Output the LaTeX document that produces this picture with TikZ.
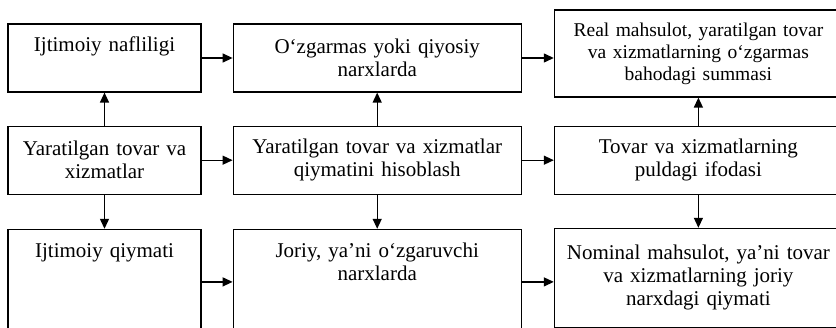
\documentclass[tikz,border=0pt]{standalone}
\usepackage{fontspec}
\setmainfont{Liberation Serif}
\usetikzlibrary{arrows.meta, positioning}

\begin{document}
\begin{tikzpicture}[
  x=1pt, y=1pt,
  font=\fontsize{21}{23}\selectfont,
  node distance=33pt and 31pt,
  box/.style={rectangle, draw, line width=1.2pt, inner xsep=4pt, inner ysep=0pt, align=center},
  colone/.style={box, text width=185pt},
  coltwo/.style={box, text width=280pt},
  colthree/.style={box, text width=280pt},
  topalign/.style={text height=16pt, text depth=#1, inner ysep=12pt},
  line/.style={draw, line width=1.3pt, -{Triangle[length=10pt, width=9pt]}}
]
  \useasboundingbox (0,0) rectangle (836,-328);
  \clip (0,0) rectangle (836,-328);
  \fill [white] (0,0) rectangle (836,-328);

  % left column
  \node [colone, minimum height=68pt, topalign=28pt] (naflilik) at (104.5,-58) {Ijtimoiy nafliligi};
  \node [colone, minimum height=68pt] (yaratilgan) [below=of naflilik] {Yaratilgan tovar va\\xizmatlar};
  \node [colone, minimum height=105pt, topalign=65pt] (qiymat) [below=34pt of yaratilgan] {Ijtimoiy qiymati};

  % middle column
  \node [coltwo, minimum height=68pt] (ozgarmas) [right=of naflilik] {O‘zgarmas yoki qiyosiy\\narxlarda};
  \node [coltwo, minimum height=68pt] (hisoblash) [right=of yaratilgan] {Yaratilgan tovar va xizmatlar\\qiymatini hisoblash};
  \node [coltwo, minimum height=105pt, topalign=65pt] (joriy) [right=of qiymat] {Joriy, ya’ni o‘zgaruvchi\\narxlarda};

  % right column
  \node [colthree, minimum height=87pt, font=\fontsize{19.5}{22}\selectfont] (real) [right=32pt of ozgarmas, yshift=4.5pt] {Real mahsulot, yaratilgan tovar\\va xizmatlarning o‘zgarmas\\bahodagi summasi};
  \node [colthree, minimum height=68pt] (puldagi) [right=32pt of hisoblash] {Tovar va xizmatlarning\\puldagi ifodasi};
  \node [colthree, minimum height=99pt] (nominal) [right=32pt of joriy.north east, anchor=north west, yshift=1pt] {Nominal mahsulot, ya’ni tovar\\va xizmatlarning joriy\\narxdagi qiymati};

  \draw [line] (naflilik.east) -- (naflilik.east -| ozgarmas.west);
  \draw [line] (ozgarmas.east) -- (ozgarmas.east -| real.west);
  \draw [line] (yaratilgan.east) -- (yaratilgan.east -| hisoblash.west);
  \draw [line] (hisoblash.east) -- (hisoblash.east -| puldagi.west);
  \draw [line] (qiymat.east) -- (qiymat.east -| joriy.west);
  \draw [line] (joriy.east) -- (joriy.east -| nominal.west);

  \draw [line] (yaratilgan) -- (naflilik);
  \draw [line] (yaratilgan) -- (qiymat);
  \draw [line] (hisoblash) -- (ozgarmas);
  \draw [line] (hisoblash) -- (joriy);
  \draw [line] (puldagi.north) -- (puldagi.north |- real.south);
  \draw [line] (puldagi.south) -- (puldagi.south |- nominal.north);
\end{tikzpicture}
\end{document}
